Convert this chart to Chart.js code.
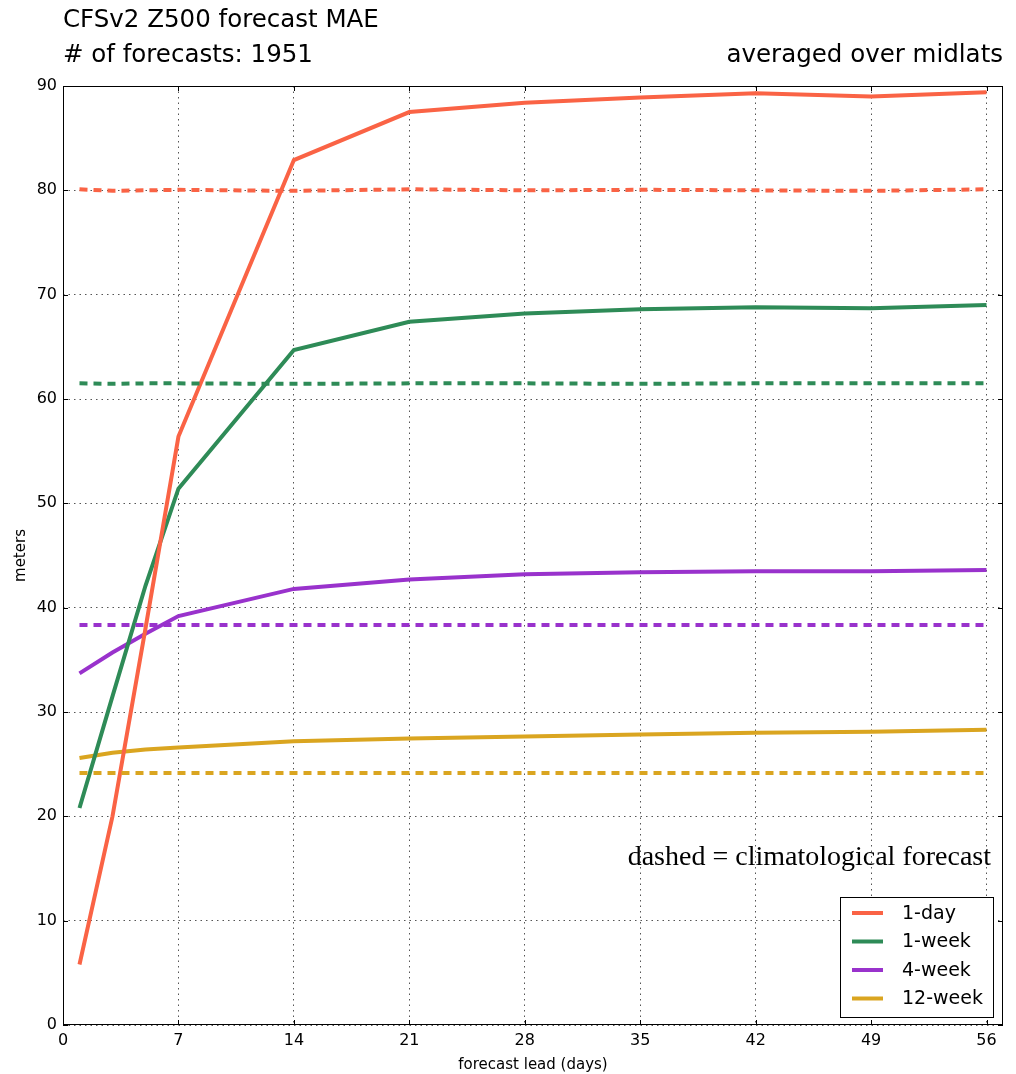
<!DOCTYPE html>
<html>
<head>
<meta charset="utf-8">
<script src="https://cdn.jsdelivr.net/npm/chart.js@4.4.1/dist/chart.umd.min.js"></script>
<style>
  html, body { margin: 0; padding: 0; background: #ffffff; }
  #wrap { width: 1016px; height: 1074px; position: relative; }
</style>
</head>
<body>
<div id="wrap"><canvas id="c" width="1016" height="1074"></canvas></div>
<script>
// Forecast lead times (days)
const leadDays = [1, 3, 5, 7, 14, 21, 28, 35, 42, 49, 56];
const xTicks = [0, 7, 14, 21, 28, 35, 42, 49, 56];
const yTicks = [0, 10, 20, 30, 40, 50, 60, 70, 80, 90];

// Forecast MAE (meters) for each averaging window
const mae1day   = [5.8, 20.0, 38.0, 56.4, 82.9, 87.5, 88.4, 88.9, 89.3, 89.0, 89.4];
const mae1week  = [20.8, 31.5, 42.1, 51.4, 64.7, 67.4, 68.2, 68.6, 68.8, 68.7, 69.0];
const mae4week  = [33.7, 35.7, 37.5, 39.2, 41.8, 42.7, 43.2, 43.4, 43.5, 43.5, 43.6];
const mae12week = [25.6, 26.1, 26.4, 26.6, 27.2, 27.45, 27.65, 27.85, 28.0, 28.1, 28.3];

// Climatological forecast MAE (meters)
const clim1day   = [80.1, 79.95, 80.0, 80.05, 79.95, 80.1, 80.0, 80.05, 80.0, 79.95, 80.1];
const clim1week  = [61.5, 61.45, 61.5, 61.5, 61.45, 61.5, 61.5, 61.45, 61.5, 61.5, 61.5];
const clim4week  = [38.35, 38.35, 38.35, 38.35, 38.35, 38.35, 38.35, 38.35, 38.35, 38.35, 38.35];
const clim12week = [24.15, 24.15, 24.15, 24.15, 24.15, 24.15, 24.15, 24.15, 24.15, 24.15, 24.15];

const seriesNames = ['1-day', '1-week', '4-week', '12-week'];
const colors = ['#fa6345', '#2e8b57', '#9932cc', '#daa520'];

const FONT = '"DejaVu Sans", sans-serif';

function pts(vals) { return leadDays.map((d, i) => ({ x: d, y: vals[i] })); }

const solid = [mae1day, mae1week, mae4week, mae12week];
const dashed = [clim1day, clim1week, clim4week, clim12week];

const datasets = [];
dashed.forEach((v, i) => datasets.push({
  label: seriesNames[i] + ' clim', data: pts(v), borderColor: colors[i],
  borderWidth: 4, borderDash: [8, 6], pointRadius: 0, fill: false, tension: 0
}));
solid.forEach((v, i) => datasets.push({
  label: seriesNames[i], data: pts(v), borderColor: colors[i],
  borderWidth: 4, pointRadius: 0, fill: false, tension: 0, borderCapStyle: 'butt'
}));

const decor = {
  id: 'decor',
  afterDraw(chart) {
    const ctx = chart.ctx, a = chart.chartArea;
    const xs = chart.scales.x, ys = chart.scales.y;
    ctx.save();
    // frame
    ctx.strokeStyle = '#000';
    ctx.lineWidth = 1;
    ctx.strokeRect(a.left + 0.5, a.top + 0.5, a.right - a.left - 1, a.bottom - a.top - 1);
    // inward tick marks on all sides
    ctx.beginPath();
    xTicks.forEach(t => {
      const px = Math.round(xs.getPixelForValue(t)) + 0.5;
      ctx.moveTo(px, a.bottom); ctx.lineTo(px, a.bottom - 5);
      ctx.moveTo(px, a.top); ctx.lineTo(px, a.top + 5);
    });
    yTicks.forEach(t => {
      const py = Math.round(ys.getPixelForValue(t)) + 0.5;
      ctx.moveTo(a.left, py); ctx.lineTo(a.left + 5, py);
      ctx.moveTo(a.right, py); ctx.lineTo(a.right - 5, py);
    });
    ctx.stroke();

    // titles
    ctx.fillStyle = '#000';
    ctx.font = '24.5px ' + FONT;
    ctx.textBaseline = 'alphabetic';
    ctx.textAlign = 'left';
    ctx.fillText('CFSv2 Z500 forecast MAE', 63, 27);
    ctx.fillText('# of forecasts: 1951', 63, 62);
    ctx.textAlign = 'right';
    ctx.fillText('averaged over midlats', 1003, 62);

    // annotation
    ctx.font = '28px "Liberation Serif", serif';
    ctx.fillText('dashed = climatological forecast', 991, 865);

    // legend
    const lx = 840, ly = 897, lw = 153, lh = 120;
    ctx.fillStyle = '#fff';
    ctx.fillRect(lx, ly, lw, lh);
    ctx.strokeStyle = '#000';
    ctx.lineWidth = 1;
    ctx.strokeRect(lx + 0.5, ly + 0.5, lw, lh);
    ctx.font = '19px ' + FONT;
    ctx.textAlign = 'left';
    ctx.textBaseline = 'middle';
    seriesNames.forEach((n, i) => {
      const y = ly + 16 + i * 28.5;
      ctx.strokeStyle = colors[i];
      ctx.lineWidth = 4;
      ctx.beginPath();
      ctx.moveTo(lx + 12, y); ctx.lineTo(lx + 43, y);
      ctx.stroke();
      ctx.fillStyle = '#000';
      ctx.fillText(n, lx + 62, y + 1);
    });
    ctx.restore();
  }
};

new Chart(document.getElementById('c'), {
  type: 'line',
  data: { datasets },
  options: {
    responsive: false,
    animation: false,
    layout: { padding: { top: 86, right: 13, left: 0, bottom: 0 } },
    plugins: { legend: { display: false }, tooltip: { enabled: false } },
    scales: {
      x: {
        type: 'linear', min: 0, max: 57,
        afterBuildTicks: s => { s.ticks = xTicks.map(v => ({ value: v })); },
        afterFit: s => { s.height = 49; },
        grid: { color: '#555', lineWidth: 1, drawTicks: false },
        border: { display: false, dash: [1.5, 4] },
        ticks: { color: '#000', font: { family: FONT, size: 16 }, padding: 6, maxRotation: 0 },
        title: { display: true, text: 'forecast lead (days)', color: '#000',
                 font: { family: FONT, size: 15 }, padding: { top: 2, bottom: 0 } }
      },
      y: {
        type: 'linear', min: 0, max: 90,
        afterBuildTicks: s => { s.ticks = yTicks.map(v => ({ value: v })); },
        afterFit: s => { s.width = 63; },
        grid: { color: '#555', lineWidth: 1, drawTicks: false },
        border: { display: false, dash: [1.5, 4] },
        ticks: { color: '#000', font: { family: FONT, size: 16 }, padding: 6 },
        title: { display: true, text: 'meters', color: '#000',
                 font: { family: FONT, size: 15 }, padding: { top: 12, bottom: 0 } }
      }
    }
  },
  plugins: [decor]
});
</script>
</body>
</html>
